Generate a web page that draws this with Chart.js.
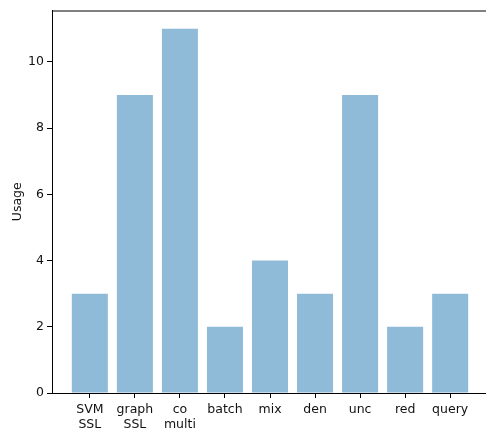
<!DOCTYPE html>
<html>
<head>
<meta charset="utf-8">
<script src="https://cdn.jsdelivr.net/npm/chart.js@4.4.1/dist/chart.umd.min.js"></script>
<style>
  html, body { margin: 0; padding: 0; background: #fff; overflow: hidden; }
  #wrap { width: 492px; height: 432px; }
</style>
</head>
<body>
<div id="wrap"><canvas id="usageChart" width="492" height="432"></canvas></div>
<script>
// datos del grafico
const categorias = [['SVM', 'SSL'], ['graph', 'SSL'], ['co', 'multi'], 'batch', 'mix', 'den', 'unc', 'red', 'query'];
const usos = [3, 9, 11, 2, 4, 3, 9, 2, 3];
const ticksY = [0, 2, 4, 6, 8, 10];

const fuente = { family: "'DejaVu Sans', sans-serif", size: 12.5, lineHeight: 1.2 };

// linea superior como en matplotlib (el borde derecho queda fuera de la imagen)
const marco = {
    id: 'marco',
    afterDraw(chart) {
        const { ctx, chartArea: a } = chart;
        ctx.save();
        ctx.strokeStyle = '#000';
        ctx.lineWidth = 1;
        ctx.beginPath();
        ctx.moveTo(a.left, a.top + 0.5);
        ctx.lineTo(a.right, a.top + 0.5);
        ctx.stroke();
        ctx.restore();
    }
};

const ctx = document.getElementById('usageChart').getContext('2d');
new Chart(ctx, {
    type: 'bar',
    data: {
        datasets: [{
            data: usos.map((v, i) => ({ x: i, y: v })),
            backgroundColor: 'rgba(31, 119, 180, 0.5)',
            borderWidth: 0,
            barPercentage: 0.8,
            categoryPercentage: 1.0
        }]
    },
    options: {
        responsive: false,
        animation: false,
        layout: { padding: { top: 10, right: 4, left: 0, bottom: 0 } },
        scales: {
            x: {
                type: 'linear',
                offset: false,
                min: -0.84,
                max: 8.84,
                afterBuildTicks: s => { s.ticks = categorias.map((_, i) => ({ value: i })); },
                afterFit: s => { s.height = 39; },
                grid: { offset: false, drawOnChartArea: false, drawTicks: true, tickLength: 5, color: '#000' },
                border: { display: true, color: '#000', width: 1 },
                ticks: {
                    autoSkip: false,
                    maxRotation: 0,
                    padding: 4,
                    color: '#111',
                    font: fuente,
                    callback: v => categorias[v]
                }
            },
            y: {
                min: 0,
                max: 11.55,
                afterBuildTicks: s => { s.ticks = ticksY.map(v => ({ value: v })); },
                afterFit: s => { s.width = 52; },
                grid: { drawOnChartArea: false, drawTicks: true, tickLength: 5, color: '#000' },
                border: { display: true, color: '#000', width: 1 },
                ticks: { padding: 3, color: '#111', font: fuente },
                title: { display: true, text: 'Usage', color: '#111', font: fuente, padding: { top: 10, bottom: 0 } }
            }
        },
        plugins: {
            legend: { display: false },
            tooltip: { enabled: false }
        }
    },
    plugins: [marco]
});
</script>
</body>
</html>
